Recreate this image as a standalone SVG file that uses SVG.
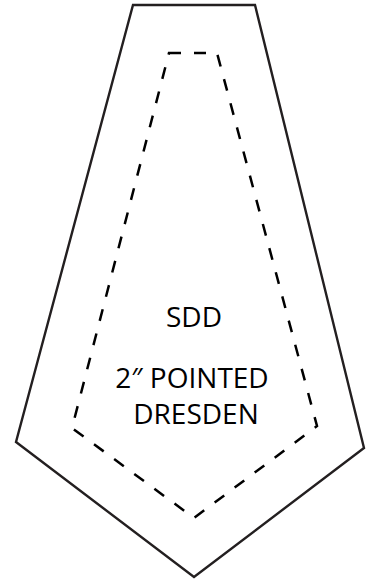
<svg xmlns="http://www.w3.org/2000/svg" width="366" height="586" viewBox="0 0 366 586">
<style>
.outer{fill:none;stroke:#231f20;stroke-width:2.4;stroke-linejoin:miter}
.inner{fill:none;stroke:#000;stroke-width:2.5;stroke-dasharray:12 13}
.t{font-family:"Open Sans","Liberation Sans",sans-serif;font-size:28px;fill:#000;text-anchor:middle}
</style>
<rect width="366" height="586" fill="#fff"/>
<g id="outline">
<polygon class="outer" points="133,5 255,5 364,448 194,577 16,442"/>
</g>
<g id="seam">
<polygon class="inner" points="169,53 217,53 317,426 194,518 72,428"/>
</g>
<g id="labels">
<text class="t" x="194" y="327">SDD</text>
<text class="t" x="192" y="388">2″ POINTED</text>
<text class="t" x="196" y="424">DRESDEN</text>
</g>
</svg>
